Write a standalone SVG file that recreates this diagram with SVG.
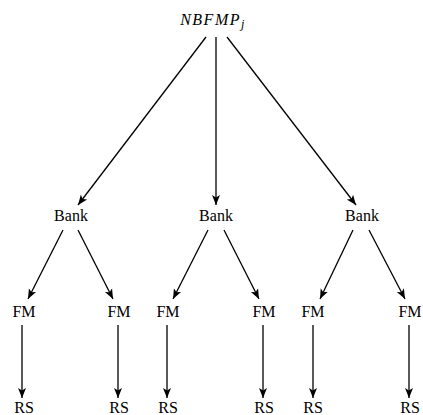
<svg xmlns="http://www.w3.org/2000/svg" width="423" height="415" viewBox="0 0 423 415">
<style>
text{font-family:"Liberation Serif","DejaVu Serif",serif;font-size:16px;fill:#000;text-anchor:middle}
.e{stroke:#000;stroke-width:1.3;fill:none;marker-end:url(#a)}
</style>
<defs>
<marker id="a" markerWidth="12" markerHeight="12" refX="10" refY="5" orient="auto" markerUnits="userSpaceOnUse">
<path d="M0,1 L10,5 L0,9 L2.5,5 Z" fill="#000"/>
</marker>
</defs>
<rect width="423" height="415" fill="#fff"/>
<g id="edges">
<line class="e" x1="206" y1="37" x2="78" y2="205"/>
<line class="e" x1="216" y1="37" x2="216" y2="205"/>
<line class="e" x1="227" y1="37" x2="356" y2="205"/>
<line class="e" x1="63" y1="230" x2="28" y2="299"/>
<line class="e" x1="78" y1="230" x2="113" y2="299"/>
<line class="e" x1="208" y1="230" x2="173" y2="299"/>
<line class="e" x1="224" y1="230" x2="259" y2="299"/>
<line class="e" x1="353" y1="230" x2="320" y2="299"/>
<line class="e" x1="369" y1="230" x2="405" y2="299"/>
<line class="e" x1="22" y1="325" x2="22" y2="398"/>
<line class="e" x1="118" y1="325" x2="118" y2="398"/>
<line class="e" x1="167" y1="325" x2="167" y2="398"/>
<line class="e" x1="263" y1="325" x2="263" y2="398"/>
<line class="e" x1="313" y1="325" x2="313" y2="398"/>
<line class="e" x1="409" y1="325" x2="409" y2="398"/>
</g>
<g id="root"><text x="213" y="25" font-style="italic" font-size="17" letter-spacing="1.5">NBFMP<tspan font-size="12" dy="3">j</tspan></text></g>
<g id="bank1"><text x="71" y="221">Bank</text></g>
<g id="bank2"><text x="216" y="221">Bank</text></g>
<g id="bank3"><text x="362" y="221">Bank</text></g>
<g id="fm1"><text x="24" y="317">FM</text></g>
<g id="fm2"><text x="119" y="317">FM</text></g>
<g id="fm3"><text x="168" y="317">FM</text></g>
<g id="fm4"><text x="264" y="317">FM</text></g>
<g id="fm5"><text x="313" y="317">FM</text></g>
<g id="fm6"><text x="410" y="317">FM</text></g>
<g id="rs1"><text x="24" y="413">RS</text></g>
<g id="rs2"><text x="119" y="413">RS</text></g>
<g id="rs3"><text x="168" y="413">RS</text></g>
<g id="rs4"><text x="264" y="413">RS</text></g>
<g id="rs5"><text x="313" y="413">RS</text></g>
<g id="rs6"><text x="410" y="413">RS</text></g>
</svg>
